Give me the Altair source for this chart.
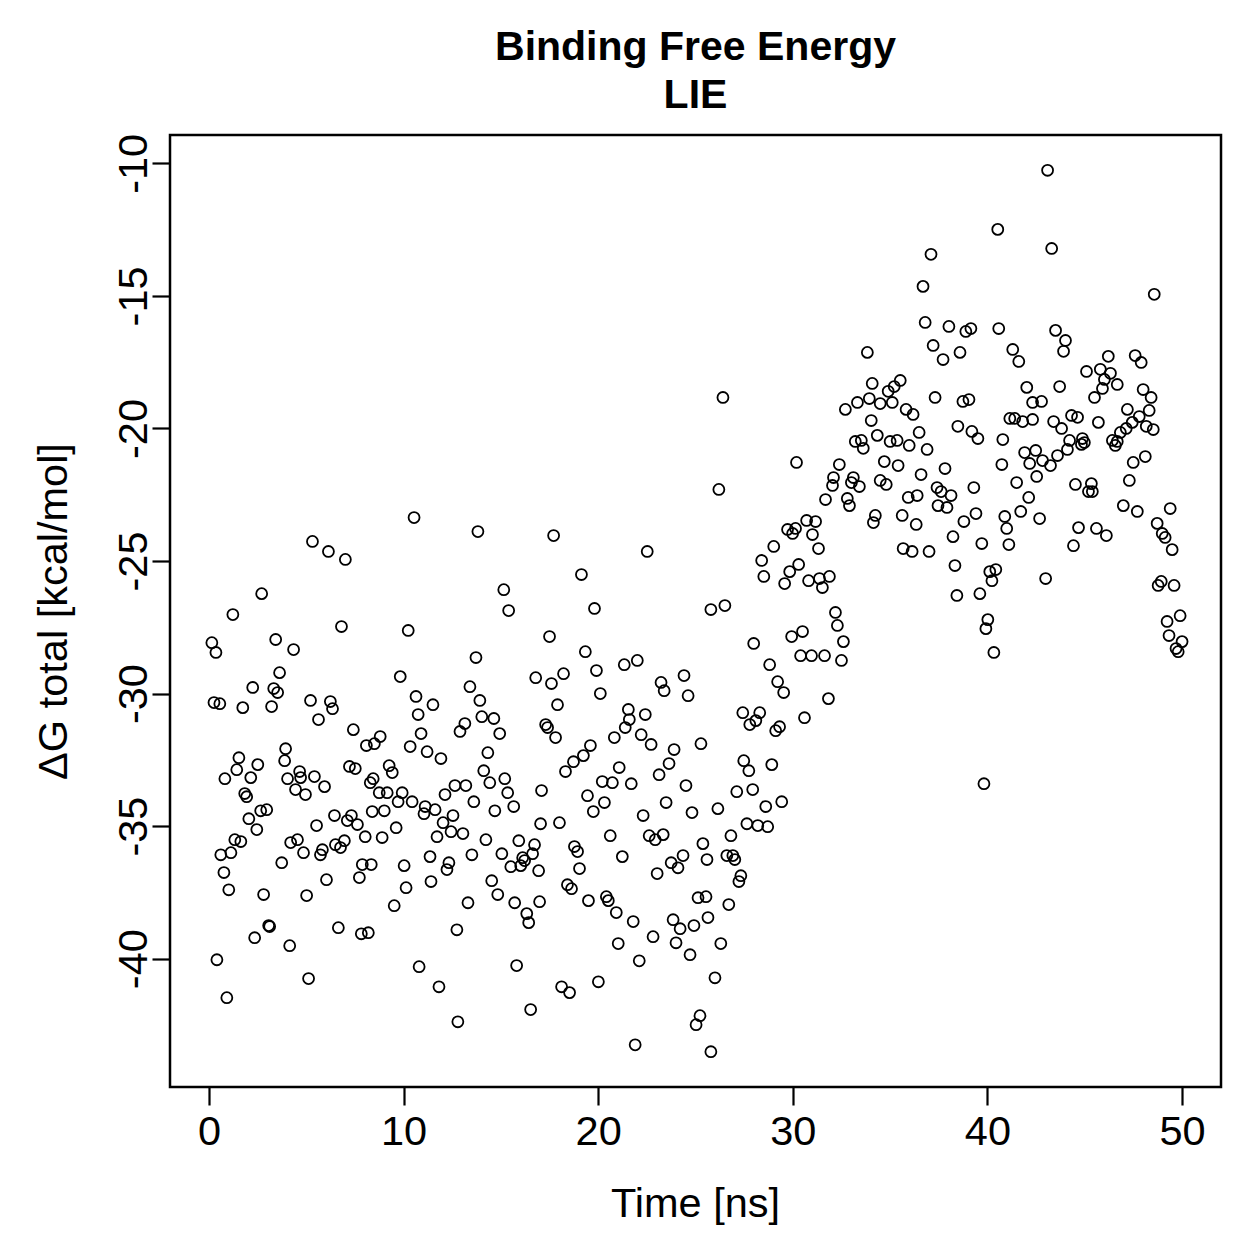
import altair as alt
import pandas as pd

# Time [ns]
time_ns = [
    5.32, 6.14, 7.01, 2.71, 1.23, 6.81, 0.15, 0.36, 3.43, 4.35,
    3.63, 2.25, 3.33, 3.53, 0.26, 0.56, 1.74, 3.22, 5.22, 6.24,
    6.35, 5.63, 7.42, 8.09, 1.54, 3.94, 3.89, 2.51, 1.43, 7.22,
    7.52, 4.66, 0.82, 2.15, 4.04, 4.71, 5.42, 5.94, 4.45, 4.96,
    8.29, 1.84, 1.94, 2.66, 2.97, 2.05, 2.46, 1.33, 1.64, 1.13,
    0.61, 0.77, 1.02, 2.81, 3.74, 4.20, 4.55, 4.86, 5.53, 6.45,
    7.32, 7.11, 7.63, 8.03, 6.96, 6.50, 6.76, 5.83, 5.73, 8.39,
    7.88, 7.73, 6.04, 5.02, 3.07, 3.12, 2.35, 4.15, 6.65, 7.83,
    8.19, 0.41, 5.12, 0.92, 10.54, 13.82, 15.15, 15.40, 10.24, 13.72,
    9.83, 16.79, 13.41, 10.64, 11.51, 13.92, 10.75, 14.02, 14.64, 13.15,
    12.90, 14.94, 10.90, 8.80, 8.50, 10.34, 11.21, 11.92, 14.33, 14.12,
    9.26, 9.42, 8.44, 15.20, 14.43, 15.35, 8.75, 9.16, 9.93, 9.72,
    10.44, 11.11, 11.05, 11.62, 12.13, 12.64, 13.20, 13.61, 12.54, 12.03,
    12.44, 13.05, 11.72, 14.69, 15.66, 17.09, 9.01, 9.62, 8.90, 14.23,
    15.92, 16.73, 16.63, 16.12, 16.22, 16.02, 15.51, 15.05, 13.51, 16.94,
    11.36, 12.33, 12.23, 10.03, 8.34, 11.41, 10.13, 14.53, 14.84, 15.71,
    13.31, 9.52, 16.33, 16.43, 16.99, 12.74, 10.80, 15.81, 11.82, 16.53,
    12.79, 17.71, 22.52, 19.14, 19.81, 25.79, 17.50, 19.34, 21.34, 22.01,
    19.91, 18.22, 17.60, 20.11, 23.23, 23.39, 24.41, 24.62, 17.91, 21.55,
    22.42, 21.60, 21.39, 17.30, 17.40, 17.81, 20.83, 22.21, 22.72, 19.60,
    19.24, 18.73, 18.32, 21.08, 23.90, 23.64, 25.28, 23.13, 20.21, 20.73,
    21.70, 24.51, 19.45, 20.32, 19.75, 23.49, 24.82, 22.31, 17.04, 18.01,
    20.62, 22.62, 22.93, 23.34, 25.38, 25.59, 24.36, 23.75, 24.10, 23.03,
    21.24, 18.78, 18.94, 19.04, 18.42, 18.63, 19.50, 20.42, 20.52, 20.93,
    21.80, 23.85, 24.21, 24.92, 25.13, 25.54, 25.64, 22.82, 24.00, 24.72,
    21.03, 22.11, 18.12, 18.53, 20.01, 25.23, 25.03, 21.90, 25.79, 34.08,
    33.93, 33.32, 32.70, 34.49, 34.03, 26.41, 34.34, 33.21, 33.52, 33.62,
    30.19, 32.39, 32.09, 32.04, 33.11, 33.01, 33.42, 34.49, 31.68, 32.80,
    32.91, 34.24, 34.14, 26.20, 30.71, 31.17, 29.73, 30.14, 29.99, 31.01,
    31.32, 29.02, 28.40, 28.51, 30.30, 29.84, 29.58, 30.81, 31.37, 31.88,
    31.52, 26.51, 32.19, 32.29, 32.60, 32.50, 30.50, 29.94, 27.99, 30.40,
    30.96, 31.63, 28.81, 29.22, 29.53, 31.83, 27.43, 28.30, 28.10, 27.79,
    30.60, 29.32, 29.12, 27.48, 27.74, 28.92, 27.12, 27.94, 29.43, 28.61,
    26.15, 27.64, 28.20, 28.71, 26.82, 26.61, 26.92, 27.02, 27.33, 27.23,
    26.71, 26.30, 26.00, 40.53, 37.10, 36.69, 36.80, 38.02, 38.89, 39.15,
    40.58, 33.83, 37.21, 37.72, 38.59, 41.30, 41.61, 35.52, 35.21, 34.90,
    35.11, 37.31, 38.74, 39.05, 42.02, 42.32, 35.82, 36.18, 38.48, 39.20,
    39.51, 40.79, 41.15, 41.40, 41.81, 42.32, 36.49, 35.00, 35.36, 35.98,
    36.90, 34.70, 35.41, 40.74, 41.91, 42.48, 42.17, 37.82, 36.59, 42.53,
    41.50, 34.80, 35.93, 36.39, 37.41, 37.62, 38.13, 37.46, 37.92, 39.30,
    42.12, 35.62, 36.34, 38.79, 39.41, 40.89, 41.71, 40.99, 42.68, 38.23,
    39.71, 41.10, 35.67, 36.13, 37.00, 38.33, 40.12, 40.43, 40.23, 38.43,
    39.61, 40.02, 39.92, 40.33, 39.82, 43.09, 43.30, 48.57, 43.50, 44.01,
    43.91, 46.21, 47.59, 47.90, 45.09, 45.80, 46.32, 46.01, 46.67, 45.91,
    45.50, 43.71, 48.00, 48.41, 48.31, 47.19, 47.80, 47.44, 47.13, 46.83,
    46.42, 46.57, 46.67, 48.16, 48.52, 42.78, 44.32, 44.63, 43.40, 43.81,
    45.70, 44.22, 44.88, 44.98, 44.83, 44.11, 42.83, 43.24, 43.60, 47.49,
    48.11, 44.52, 45.34, 45.19, 45.39, 47.29, 46.98, 47.70, 49.39, 44.68,
    45.60, 46.11, 44.42, 48.72, 48.98, 49.13, 49.49, 42.99, 48.93, 48.77,
    49.59, 49.90, 49.23, 49.33, 50.00, 49.69, 49.80,
]

# Delta G total [kcal/mol]
dg_total = [
    -24.26, -24.64, -24.94, -26.23, -27.02, -27.47, -28.08, -28.45, -27.96, -28.34,
    -29.21, -29.77, -29.81, -29.96, -30.34, -30.38, -30.53, -30.49, -30.26, -30.30,
    -30.57, -30.98, -31.36, -31.96, -32.42, -32.08, -32.53, -32.68, -32.87, -32.75,
    -32.83, -32.94, -33.21, -33.17, -33.21, -33.17, -33.13, -33.51, -33.62, -33.81,
    -33.36, -33.77, -33.89, -34.42, -34.38, -34.72, -35.13, -35.51, -35.58, -36.00,
    -36.08, -36.75, -37.40, -37.58, -36.38, -35.62, -35.51, -36.00, -34.98, -34.60,
    -34.60, -34.79, -34.94, -35.40, -35.55, -35.70, -35.81, -35.89, -36.08, -34.45,
    -36.45, -36.94, -37.02, -37.62, -38.75, -38.79, -39.21, -39.51, -38.83, -39.06,
    -39.02, -40.04, -40.75, -41.47, -23.36, -23.89, -26.08, -26.87, -27.62, -28.64,
    -29.36, -29.40, -29.74, -30.11, -30.42, -30.26, -30.79, -30.87, -30.94, -31.13,
    -31.43, -31.51, -31.51, -31.62, -31.89, -32.00, -32.19, -32.45, -32.23, -32.91,
    -32.72, -32.98, -33.21, -33.21, -33.36, -33.74, -33.74, -33.74, -33.74, -34.08,
    -34.08, -34.26, -34.53, -34.38, -33.81, -33.47, -33.47, -34.08, -34.60, -34.87,
    -35.21, -35.28, -35.40, -34.42, -34.26, -33.66, -34.42, -35.06, -35.43, -35.51,
    -35.55, -35.70, -36.04, -36.19, -36.30, -36.49, -36.53, -36.04, -36.08, -36.68,
    -36.15, -36.38, -36.64, -36.49, -36.45, -37.09, -37.32, -37.06, -37.58, -37.89,
    -37.89, -38.00, -38.30, -38.64, -37.85, -38.91, -40.30, -40.26, -41.06, -41.92,
    -42.38, -24.04, -24.64, -25.51, -26.79, -26.83, -27.85, -28.42, -28.91, -28.75,
    -29.13, -29.25, -29.62, -30.00, -29.58, -29.89, -29.32, -30.08, -30.42, -30.60,
    -30.79, -30.98, -31.28, -31.17, -31.28, -31.66, -31.66, -31.55, -31.92, -31.96,
    -32.34, -32.57, -32.94, -32.79, -32.11, -32.64, -31.89, -33.06, -33.32, -33.36,
    -33.40, -33.47, -33.85, -34.11, -34.45, -34.11, -34.49, -34.60, -34.91, -34.87,
    -35.36, -35.36, -35.51, -35.32, -35.66, -36.26, -36.11, -36.38, -36.57, -36.79,
    -36.15, -35.77, -35.96, -36.60, -37.21, -37.36, -37.81, -37.66, -37.81, -38.26,
    -38.60, -38.53, -38.87, -38.75, -37.70, -37.66, -38.45, -39.17, -39.40, -39.85,
    -39.43, -40.08, -41.06, -41.28, -40.87, -42.15, -42.49, -43.25, -43.51, -18.30,
    -18.87, -19.02, -19.28, -19.06, -19.70, -18.83, -20.26, -20.49, -20.45, -20.75,
    -21.28, -21.36, -21.85, -22.15, -21.85, -22.04, -22.19, -21.96, -22.68, -22.64,
    -22.91, -23.28, -23.55, -22.30, -23.47, -23.51, -23.81, -23.77, -23.96, -24.00,
    -24.53, -24.45, -24.98, -25.58, -25.13, -25.40, -25.85, -25.74, -25.66, -25.58,
    -26.00, -26.68, -26.94, -27.43, -28.04, -28.75, -27.66, -27.85, -28.11, -28.57,
    -28.57, -28.57, -28.91, -29.55, -29.96, -30.19, -30.72, -30.72, -31.02, -31.17,
    -30.91, -31.25, -31.40, -32.53, -32.91, -32.68, -33.70, -33.62, -34.08, -34.26,
    -34.34, -34.91, -34.98, -35.02, -35.36, -36.11, -36.11, -36.26, -36.87, -37.09,
    -37.96, -39.43, -40.72, -12.49, -13.43, -14.64, -16.00, -16.15, -16.34, -16.23,
    -16.23, -17.13, -16.87, -17.40, -17.13, -17.02, -17.47, -18.19, -18.42, -18.60,
    -19.02, -18.83, -18.98, -18.91, -18.45, -19.02, -19.28, -19.47, -19.92, -20.11,
    -20.38, -20.42, -19.62, -19.62, -19.74, -19.66, -20.15, -20.49, -20.45, -20.64,
    -20.79, -21.25, -21.40, -21.36, -20.91, -20.83, -21.32, -21.51, -21.74, -21.81,
    -22.04, -22.11, -22.60, -22.53, -22.23, -22.38, -22.53, -22.91, -22.98, -22.23,
    -22.60, -23.28, -23.62, -23.51, -23.21, -23.32, -23.13, -23.77, -23.40, -24.08,
    -24.34, -24.38, -24.53, -24.64, -24.64, -25.17, -25.40, -25.32, -25.74, -26.30,
    -26.23, -27.21, -27.55, -28.45, -33.40, -10.26, -13.21, -14.94, -16.30, -16.68,
    -17.09, -17.28, -17.25, -17.51, -17.85, -17.77, -17.92, -18.15, -18.34, -18.49,
    -18.83, -18.42, -18.53, -18.83, -19.32, -19.28, -19.55, -19.77, -20.00, -20.15,
    -20.45, -20.64, -20.49, -19.92, -20.04, -18.98, -19.51, -19.58, -19.74, -20.00,
    -19.77, -20.45, -20.38, -20.53, -20.60, -20.79, -21.21, -21.40, -21.02, -21.28,
    -21.06, -22.11, -22.08, -22.38, -22.38, -21.96, -22.91, -23.13, -23.02, -23.74,
    -23.77, -24.04, -24.42, -23.58, -23.96, -24.11, -24.57, -25.66, -25.77, -25.92,
    -25.92, -27.06, -27.28, -27.81, -28.04, -28.30, -28.42,
]

x_ticks = [0, 10, 20, 30, 40, 50]
y_ticks = [-40, -35, -30, -25, -20, -15, -10]

n = min(len(time_ns), len(dg_total))
df = pd.DataFrame({"time": time_ns[:n], "dg": dg_total[:n]})

FONT = "Liberation Sans"
FS = 41.5

chart = (
    alt.Chart(df)
    .mark_point(shape="circle", filled=False, color="black", size=120, strokeWidth=1.8, opacity=1)
    .encode(
        x=alt.X(
            "time:Q",
            scale=alt.Scale(domain=[-2, 52], nice=False, zero=False),
            axis=alt.Axis(
                values=x_ticks,
                title="Time [ns]",
                grid=False,
                domain=False,
                tickColor="black",
                tickSize=18,
                tickWidth=2.2,
                labelFont=FONT,
                labelFontSize=FS,
                labelColor="black",
                labelBaseline="alphabetic",
                labelPadding=39,
                titleFont=FONT,
                titleFontSize=FS,
                titleFontWeight="normal",
                titleColor="black",
                titleX=525,
                titleY=129,
                titleBaseline="alphabetic",
                titleAlign="center",
            ),
        ),
        y=alt.Y(
            "dg:Q",
            scale=alt.Scale(domain=[-44.84, -8.93], nice=False, zero=False),
            axis=alt.Axis(
                values=y_ticks,
                labelExpr="toString(datum.value)",
                title="ΔG total [kcal/mol]",
                grid=False,
                domain=False,
                tickColor="black",
                tickSize=18,
                tickWidth=2.2,
                labelFont=FONT,
                labelFontSize=FS,
                labelColor="black",
                labelAngle=270,
                labelAlign="center",
                labelBaseline="alphabetic",
                labelPadding=6,
                titleFont=FONT,
                titleFontSize=FS,
                titleFontWeight="normal",
                titleColor="black",
                titleAngle=270,
                titleX=-104,
                titleY=476,
                titleBaseline="alphabetic",
                titleAlign="center",
            ),
        ),
    )
    .properties(
        width=1051,
        height=952,
        title=alt.TitleParams(
            text=["Binding Free Energy", "LIE"],
            font=FONT,
            fontSize=41,
            fontWeight="bold",
            color="black",
            anchor="middle",
            frame="group",
            baseline="alphabetic",
            lineHeight=48,
            offset=0,
            dy=16,
        ),
        autosize=alt.AutoSizeParams(type="none"),
        padding={"left": 170, "top": 135, "right": 38, "bottom": 172},
    )
    .configure(
        background="white",
        view=alt.ViewConfig(stroke="black", strokeWidth=2.5),
    )
)

chart.save("out.html", embed_options={"renderer": "svg", "actions": False})
